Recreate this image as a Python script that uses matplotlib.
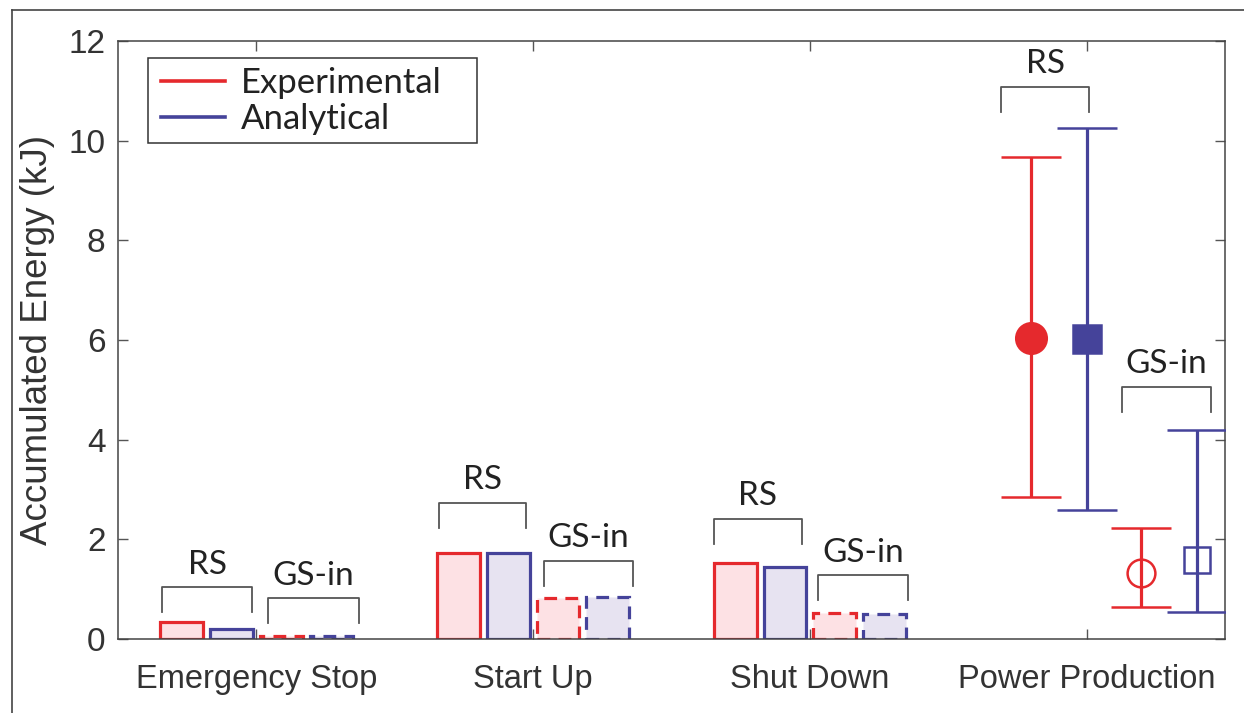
import numpy as np
import matplotlib
matplotlib.use('Agg')
import matplotlib.pyplot as plt
from matplotlib.lines import Line2D
from matplotlib.patches import Rectangle

# categories and values
categories = ['Emergency Stop', 'Start Up', 'Shut Down', 'Power Production']
rs_exp = [0.35, 1.72, 1.52]
rs_ana = [0.20, 1.72, 1.45]
gs_exp = [0.07, 0.82, 0.52]
gs_ana = [0.06, 0.85, 0.51]

# power production: mean, lower, upper
pp_rs_exp = [6.05, 2.85, 9.67]
pp_rs_ana = [6.02, 2.59, 10.25]
pp_gs_exp = [1.32, 0.64, 2.23]
pp_gs_ana = [1.59, 0.54, 4.19]

# bracket tops (kJ) for RS / GS-in groups
rs_bracket = [1.04, 2.73, 2.41, 11.08]
gs_bracket = [0.82, 1.57, 1.28, 5.06]

red = '#E5292D'
blue = '#45439A'
red_fill = '#FDE1E4'
blue_fill = '#E7E3F1'
txt = '#333333'

fig = plt.figure(figsize=(12.44, 7.13), dpi=100)
ax = fig.add_axes([118 / 1244, 1 - 639 / 713, 1107 / 1244, 598 / 713])

x = np.arange(1, 5)
w = 0.155
off = [-0.27, -0.09, 0.09, 0.27]
dash = (0, (4.0, 2.6))

xb = x[:3]
ax.bar(xb + off[0], rs_exp, w, facecolor=red_fill, edgecolor=red, linewidth=2.3)
ax.bar(xb + off[1], rs_ana, w, facecolor=blue_fill, edgecolor=blue, linewidth=2.3)
ax.bar(xb + off[2], gs_exp, w, facecolor=red_fill, edgecolor=red, linewidth=2.3, linestyle=dash)
ax.bar(xb + off[3], gs_ana, w, facecolor=blue_fill, edgecolor=blue, linewidth=2.3, linestyle=dash)

# power production error bars
pp_off = [-0.2, 0.0, 0.195, 0.4]
pp_sets = [pp_rs_exp, pp_rs_ana, pp_gs_exp, pp_gs_ana]
pp_cols = [red, blue, red, blue]
pp_marks = ['o', 's', 'o', 's']
pp_face = [red, blue, 'none', 'none']
pp_size = [22, 20, 20, 19]
for o, d, c, m, fc, ms in zip(pp_off, pp_sets, pp_cols, pp_marks, pp_face, pp_size):
    yerr = [[d[0] - d[1]], [d[2] - d[0]]]
    ax.errorbar(x[3] + o, d[0], yerr=yerr, color=c, ecolor=c, elinewidth=2.3,
                capsize=21.5, capthick=2.3, marker=m, markersize=ms,
                markerfacecolor=fc, markeredgecolor=c, markeredgewidth=1.8,
                clip_on=True, zorder=3)

# brackets with labels
rs_span = [(-0.34, -0.015), (-0.34, -0.025), (-0.347, -0.029), (-0.31, 0.01)]
gs_span = [(0.043, 0.37), (0.04, 0.36), (0.029, 0.354), (0.127, 0.45)]
leg = 0.5
for i in range(4):
    for span, top, lab in [(rs_span[i], rs_bracket[i], 'RS'), (gs_span[i], gs_bracket[i], 'GS-in')]:
        x0, x1 = x[i] + span[0], x[i] + span[1]
        ax.plot([x0, x0, x1, x1], [top - leg, top, top, top - leg], color='#555555', lw=1.3, zorder=2)
        ax.text((x0 + x1) / 2, top + 0.27, lab, ha='center', va='baseline',
                fontsize=24, family='Lato', color='#222222')

ax.set_xlim(0.5, 4.5)
ax.set_ylim(0, 12)
ax.set_xticks(x)
ax.set_xticklabels(categories, fontsize=23.5, family='Liberation Sans', color=txt)
ax.set_yticks(np.arange(0, 13, 2))
ax.set_yticklabels([str(v) for v in range(0, 13, 2)], fontsize=24, family='Liberation Sans', color=txt)
ax.tick_params(direction='in', length=7, width=1, color='#555555', top=True, right=True)
ax.tick_params(axis='x', pad=18)
ax.tick_params(axis='y', pad=9)
for s in ax.spines.values():
    s.set_color('#444444')
    s.set_linewidth(1.1)
ax.set_ylabel('Accumulated Energy (kJ)', fontsize=26.5, family='Liberation Sans', color=txt, labelpad=10)

# legend: entries without frame, box drawn separately (MATLAB-style wide box)
handles = [Line2D([0], [0], color=red, lw=2.6), Line2D([0], [0], color=blue, lw=2.6)]
lg = ax.legend(handles, ['Experimental', 'Analytical'], loc='upper left',
               bbox_to_anchor=(0.031, 0.9716), borderaxespad=0, frameon=False,
               handlelength=1.85, handletextpad=0.45, labelspacing=0.12, borderpad=0.25,
               prop={'family': 'Lato', 'size': 25})
for t in lg.get_texts():
    t.set_color('#222222')
ax.add_patch(Rectangle(((148 - 118) / 1107, (639 - 143) / 598), 329 / 1107, 85 / 598,
                       transform=ax.transAxes, facecolor='none', edgecolor='#333333',
                       linewidth=1.1, zorder=5))

# outer frame of the original figure
fig.add_artist(Line2D([11.5 / 1244, 11.5 / 1244], [0, 1 - 10 / 713], color='#444444', lw=1.2))
fig.add_artist(Line2D([11.5 / 1244, 1], [1 - 10 / 713, 1 - 10 / 713], color='#444444', lw=1.2))

fig.savefig('out.png', dpi=100)
